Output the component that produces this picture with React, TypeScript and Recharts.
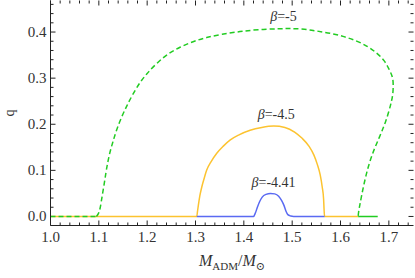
import { LineChart, Line, XAxis, YAxis, ReferenceDot, ReferenceLine } from 'recharts';

// β = -5 (dashed branch)
const betaFiveFlatM = [1.0, 1.095];
const betaFiveFlatQ = [0, 0];
const betaFiveM = [
  1.095, 1.099, 1.103, 1.107, 1.111, 1.115, 1.119, 1.124, 1.13, 1.137, 1.147, 1.158, 1.17,
  1.185, 1.2, 1.22, 1.243, 1.268, 1.295, 1.323, 1.355, 1.392, 1.43, 1.469, 1.496, 1.525, 1.552,
  1.58, 1.607, 1.632, 1.655, 1.674, 1.69, 1.7, 1.707, 1.709, 1.708, 1.705, 1.7, 1.693, 1.686,
  1.678, 1.67, 1.662, 1.655, 1.649, 1.644, 1.64, 1.6375, 1.6365,
];
const betaFiveQ = [
  0, 0.006, 0.02, 0.045, 0.07, 0.097, 0.12, 0.143, 0.165, 0.188, 0.215, 0.24, 0.264,
  0.29, 0.31, 0.332, 0.352, 0.367, 0.379, 0.388, 0.395, 0.401, 0.405, 0.407, 0.4075, 0.406, 0.402,
  0.397, 0.39, 0.381, 0.369, 0.355, 0.338, 0.32, 0.303, 0.285, 0.265, 0.248, 0.228, 0.205, 0.186,
  0.166, 0.146, 0.123, 0.098, 0.072, 0.047, 0.025, 0.01, 0,
];
// β = -5 solid tail
const betaFiveTailM = [1.6365, 1.677];
const betaFiveTailQ = [0, 0];

// β = -4.5
const betaMidM = [
  1.0, 1.3027, 1.304, 1.306, 1.309, 1.313, 1.318, 1.323, 1.333, 1.344, 1.357, 1.372, 1.39, 1.413,
  1.437, 1.462, 1.485, 1.505, 1.52, 1.535, 1.545, 1.552, 1.558, 1.562, 1.565, 1.566, 1.567, 1.6365,
];
const betaMidQ = [
  0, 0, 0.01, 0.025, 0.045, 0.064, 0.083, 0.1, 0.12, 0.137, 0.152, 0.166, 0.177, 0.187,
  0.193, 0.196, 0.193, 0.183, 0.17, 0.152, 0.133, 0.113, 0.09, 0.065, 0.038, 0.015, 0, 0,
];

// β = -4.41
const betaLowM = [
  1.3027, 1.42, 1.424, 1.428, 1.433, 1.438, 1.446, 1.455, 1.464, 1.472, 1.478, 1.483, 1.487,
  1.491, 1.497, 1.503, 1.567,
];
const betaLowQ = [
  0, 0, 0.008, 0.02, 0.033, 0.042, 0.048, 0.05, 0.049, 0.044, 0.035, 0.024, 0.012,
  0.004, 0.001, 0, 0,
];

const xMajor = [1.0, 1.1, 1.2, 1.3, 1.4, 1.5, 1.6, 1.7];
const yMajor = [0.0, 0.1, 0.2, 0.3, 0.4];

const labels = [
  { m: 1.482, q: 0.434, text: '-5' },
  { m: 1.467, q: 0.222, text: '-4.5' },
  { m: 1.4615, q: 0.0747, text: '-4.41' },
];

const xDomain: [number, number] = [1.0, 1.751];
const yDomain: [number, number] = [-0.0196, 0.4684];

const W = 415;
const H = 278;
const LEFT = 50.5;
const RIGHT = 1.5;
const TOP = 0.5;
const BOTTOM = 52.5;
// pixels per data unit, used to size the inward frame ticks
const pxX = (W - LEFT - RIGHT) / (xDomain[1] - xDomain[0]);
const pxY = (H - TOP - BOTTOM) / (yDomain[1] - yDomain[0]);

const zip = (m: number[], q: number[]) => m.map((x, i) => ({ x, q: q[i] }));

// minor ticks every 0.02 inside the domain
const steps = (lo: number, hi: number, step: number) => {
  const out: number[] = [];
  for (let v = Math.ceil(lo / step - 1e-9) * step; v <= hi + 1e-9; v += step) out.push(+v.toFixed(4));
  return out;
};
const xTicks = steps(xDomain[0], xDomain[1], 0.02);
const yTicks = steps(0, yDomain[1], 0.02);
const isMajor = (v: number, majors: number[]) => majors.some((m) => Math.abs(m - v) < 1e-6);

const FONT = "'Liberation Serif', 'DejaVu Serif', serif";
const INK = '#222';
const MAJ = 5;
const MIN = 3;
const txt = (size: number) => ({ fontFamily: FONT, fontSize: size, fill: '#333' });

function BottomTick({ x, y, payload }: any) {
  if (!isMajor(payload.value, xMajor)) return <g />;
  return (
    <text x={x} y={y + 16.5} textAnchor="middle" style={txt(15)}>
      {payload.value.toFixed(1)}
    </text>
  );
}

function LeftTick({ x, y, payload }: any) {
  if (!isMajor(payload.value, yMajor)) return <g />;
  return (
    <text x={x - 4} y={y + 5} textAnchor="end" style={txt(15)}>
      {payload.value.toFixed(1)}
    </text>
  );
}

function XLabel({ viewBox }: any) {
  const cx = viewBox.x + viewBox.width / 2;
  const base = viewBox.y + 40;
  return (
    <text x={cx} y={base} textAnchor="middle" style={txt(16)}>
      <tspan fontStyle="italic">M</tspan>
      <tspan style={{ fontSize: 11 }} dy={4}>ADM</tspan>
      <tspan dy={-4}>/</tspan>
      <tspan fontStyle="italic">M</tspan>
      <tspan style={{ fontSize: 11 }} dy={4}>⊙</tspan>
    </text>
  );
}

function YLabel({ viewBox }: any) {
  const x = viewBox.x + 14;
  const cy = viewBox.y + viewBox.height / 2;
  return (
    <text x={x} y={cy} transform={`rotate(-90 ${x} ${cy})`} textAnchor="middle" style={txt(14)}>
      q
    </text>
  );
}

const betaShape = (text: string) => (p: any) => (
  <text x={p.cx} y={p.cy + 5} textAnchor="middle" style={txt(14)}>
    <tspan fontStyle="italic">β</tspan>={text}
  </text>
);

const axisCommon = {
  type: 'number' as const,
  allowDataOverflow: true,
  interval: 0 as const,
  tickSize: 0,
  tickMargin: 0,
  tickLine: false,
  stroke: INK,
};

// inward tick marks on all four sides of the frame
const frameTicks = [
  ...xTicks.flatMap((v) => {
    const h = (isMajor(v, xMajor) ? MAJ : MIN) / pxY;
    return [
      [{ x: v, y: yDomain[0] }, { x: v, y: yDomain[0] + h }],
      [{ x: v, y: yDomain[1] }, { x: v, y: yDomain[1] - h }],
    ];
  }),
  ...yTicks.flatMap((v) => {
    const w = (isMajor(v, yMajor) ? MAJ : MIN) / pxX;
    return [
      [{ x: xDomain[0], y: v }, { x: xDomain[0] + w, y: v }],
      [{ x: xDomain[1], y: v }, { x: xDomain[1] - w, y: v }],
    ];
  }),
];

export default function App() {
  return (
    <div style={{ position: 'absolute', left: 0, top: 0 }}>
      <LineChart width={W} height={H} margin={{ top: TOP, right: RIGHT, bottom: 0, left: 0 }}>
        <XAxis
          {...axisCommon}
          xAxisId="main"
          dataKey="x"
          domain={xDomain}
          ticks={xTicks}
          tick={<BottomTick />}
          height={BOTTOM}
          label={{ content: (p: any) => <XLabel {...p} /> }}
        />
        <XAxis
          {...axisCommon}
          xAxisId="top"
          orientation="top"
          dataKey="x"
          domain={xDomain}
          ticks={[]}
          tick={false}
          height={0}
        />
        <YAxis
          {...axisCommon}
          yAxisId="main"
          dataKey="q"
          domain={yDomain}
          ticks={yTicks}
          tick={<LeftTick />}
          width={LEFT}
          label={{ content: (p: any) => <YLabel {...p} /> }}
        />
        <YAxis
          {...axisCommon}
          yAxisId="right"
          orientation="right"
          dataKey="q"
          domain={yDomain}
          ticks={[]}
          tick={false}
          width={0}
        />
        {frameTicks.map((seg, i) => (
          <ReferenceLine
            key={`t${i}`}
            xAxisId="main"
            yAxisId="main"
            segment={seg}
            stroke={INK}
            strokeWidth={1}
            ifOverflow="visible"
          />
        ))}
        <Line
          xAxisId="main"
          yAxisId="main"
          data={zip(betaMidM, betaMidQ)}
          dataKey="q"
          type="monotone"
          stroke="#fcc330"
          strokeWidth={1.5}
          dot={false}
          isAnimationActive={false}
        />
        <Line
          xAxisId="main"
          yAxisId="main"
          data={zip(betaLowM, betaLowQ)}
          dataKey="q"
          type="monotone"
          stroke="#5a6af2"
          strokeWidth={1.5}
          dot={false}
          isAnimationActive={false}
        />
        <Line
          xAxisId="main"
          yAxisId="main"
          data={zip(betaFiveFlatM, betaFiveFlatQ)}
          dataKey="q"
          type="linear"
          stroke="#22cc22"
          strokeWidth={1.5}
          strokeDasharray="5 3"
          dot={false}
          isAnimationActive={false}
        />
        <Line
          xAxisId="main"
          yAxisId="main"
          data={zip(betaFiveM, betaFiveQ)}
          dataKey="q"
          type="natural"
          stroke="#22cc22"
          strokeWidth={1.5}
          strokeDasharray="5 3"
          dot={false}
          isAnimationActive={false}
        />
        <Line
          xAxisId="main"
          yAxisId="main"
          data={zip(betaFiveTailM, betaFiveTailQ)}
          dataKey="q"
          type="linear"
          stroke="#22cc22"
          strokeWidth={1.5}
          dot={false}
          isAnimationActive={false}
        />
        {labels.map((l) => (
          <ReferenceDot
            key={l.text}
            xAxisId="main"
            yAxisId="main"
            x={l.m}
            y={l.q}
            r={0}
            shape={betaShape(l.text)}
          />
        ))}
      </LineChart>
    </div>
  );
}
